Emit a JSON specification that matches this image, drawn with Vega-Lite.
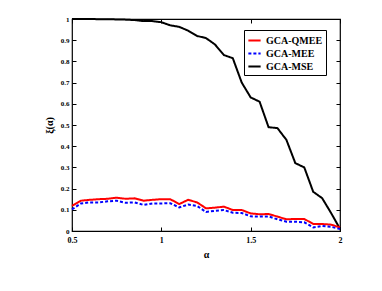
{
  "$schema": "https://vega.github.io/schema/vega-lite/v6.json",
  "width": 268,
  "height": 212,
  "autosize": {"type": "none"},
  "padding": {"left": 72, "top": 19, "right": 42, "bottom": 60},
  "background": "white",
  "config": {
    "view": {"stroke": "black", "strokeWidth": 1.2},
    "font": "Liberation Serif"
  },
  "datasets": {
    "d": [
      {"a":0.5,"v":1.0,"s":"GCA-MSE"},{"a":0.55,"v":1.0,"s":"GCA-MSE"},{"a":0.6,"v":1.0,"s":"GCA-MSE"},{"a":0.65,"v":0.999,"s":"GCA-MSE"},{"a":0.7,"v":0.999,"s":"GCA-MSE"},{"a":0.75,"v":0.998,"s":"GCA-MSE"},{"a":0.8,"v":0.997,"s":"GCA-MSE"},{"a":0.85,"v":0.995,"s":"GCA-MSE"},{"a":0.9,"v":0.99,"s":"GCA-MSE"},{"a":0.95,"v":0.99,"s":"GCA-MSE"},{"a":1.0,"v":0.985,"s":"GCA-MSE"},{"a":1.05,"v":0.97,"s":"GCA-MSE"},{"a":1.1,"v":0.963,"s":"GCA-MSE"},{"a":1.15,"v":0.945,"s":"GCA-MSE"},{"a":1.2,"v":0.92,"s":"GCA-MSE"},{"a":1.25,"v":0.91,"s":"GCA-MSE"},{"a":1.3,"v":0.88,"s":"GCA-MSE"},{"a":1.35,"v":0.83,"s":"GCA-MSE"},{"a":1.4,"v":0.815,"s":"GCA-MSE"},{"a":1.45,"v":0.70,"s":"GCA-MSE"},{"a":1.5,"v":0.63,"s":"GCA-MSE"},{"a":1.55,"v":0.61,"s":"GCA-MSE"},{"a":1.6,"v":0.49,"s":"GCA-MSE"},{"a":1.65,"v":0.485,"s":"GCA-MSE"},{"a":1.7,"v":0.43,"s":"GCA-MSE"},{"a":1.75,"v":0.32,"s":"GCA-MSE"},{"a":1.8,"v":0.30,"s":"GCA-MSE"},{"a":1.85,"v":0.185,"s":"GCA-MSE"},{"a":1.9,"v":0.155,"s":"GCA-MSE"},{"a":1.95,"v":0.085,"s":"GCA-MSE"},{"a":2.0,"v":0.01,"s":"GCA-MSE"},
      {"a":0.5,"v":0.118,"s":"GCA-QMEE"},{"a":0.55,"v":0.143,"s":"GCA-QMEE"},{"a":0.6,"v":0.147,"s":"GCA-QMEE"},{"a":0.65,"v":0.15,"s":"GCA-QMEE"},{"a":0.7,"v":0.152,"s":"GCA-QMEE"},{"a":0.75,"v":0.157,"s":"GCA-QMEE"},{"a":0.8,"v":0.152,"s":"GCA-QMEE"},{"a":0.85,"v":0.154,"s":"GCA-QMEE"},{"a":0.9,"v":0.143,"s":"GCA-QMEE"},{"a":0.95,"v":0.147,"s":"GCA-QMEE"},{"a":1.0,"v":0.15,"s":"GCA-QMEE"},{"a":1.05,"v":0.15,"s":"GCA-QMEE"},{"a":1.1,"v":0.127,"s":"GCA-QMEE"},{"a":1.15,"v":0.147,"s":"GCA-QMEE"},{"a":1.2,"v":0.135,"s":"GCA-QMEE"},{"a":1.25,"v":0.107,"s":"GCA-QMEE"},{"a":1.3,"v":0.11,"s":"GCA-QMEE"},{"a":1.35,"v":0.115,"s":"GCA-QMEE"},{"a":1.4,"v":0.099,"s":"GCA-QMEE"},{"a":1.45,"v":0.099,"s":"GCA-QMEE"},{"a":1.5,"v":0.083,"s":"GCA-QMEE"},{"a":1.55,"v":0.079,"s":"GCA-QMEE"},{"a":1.6,"v":0.08,"s":"GCA-QMEE"},{"a":1.65,"v":0.068,"s":"GCA-QMEE"},{"a":1.7,"v":0.055,"s":"GCA-QMEE"},{"a":1.75,"v":0.057,"s":"GCA-QMEE"},{"a":1.8,"v":0.057,"s":"GCA-QMEE"},{"a":1.85,"v":0.033,"s":"GCA-QMEE"},{"a":1.9,"v":0.033,"s":"GCA-QMEE"},{"a":1.95,"v":0.03,"s":"GCA-QMEE"},{"a":2.0,"v":0.017,"s":"GCA-QMEE"},
      {"a":0.5,"v":0.102,"s":"GCA-MEE"},{"a":0.55,"v":0.13,"s":"GCA-MEE"},{"a":0.6,"v":0.135,"s":"GCA-MEE"},{"a":0.65,"v":0.135,"s":"GCA-MEE"},{"a":0.7,"v":0.14,"s":"GCA-MEE"},{"a":0.75,"v":0.143,"s":"GCA-MEE"},{"a":0.8,"v":0.133,"s":"GCA-MEE"},{"a":0.85,"v":0.135,"s":"GCA-MEE"},{"a":0.9,"v":0.123,"s":"GCA-MEE"},{"a":0.95,"v":0.13,"s":"GCA-MEE"},{"a":1.0,"v":0.13,"s":"GCA-MEE"},{"a":1.05,"v":0.131,"s":"GCA-MEE"},{"a":1.1,"v":0.111,"s":"GCA-MEE"},{"a":1.15,"v":0.125,"s":"GCA-MEE"},{"a":1.2,"v":0.118,"s":"GCA-MEE"},{"a":1.25,"v":0.09,"s":"GCA-MEE"},{"a":1.3,"v":0.095,"s":"GCA-MEE"},{"a":1.35,"v":0.099,"s":"GCA-MEE"},{"a":1.4,"v":0.086,"s":"GCA-MEE"},{"a":1.45,"v":0.085,"s":"GCA-MEE"},{"a":1.5,"v":0.069,"s":"GCA-MEE"},{"a":1.55,"v":0.068,"s":"GCA-MEE"},{"a":1.6,"v":0.069,"s":"GCA-MEE"},{"a":1.65,"v":0.055,"s":"GCA-MEE"},{"a":1.7,"v":0.044,"s":"GCA-MEE"},{"a":1.75,"v":0.044,"s":"GCA-MEE"},{"a":1.8,"v":0.041,"s":"GCA-MEE"},{"a":1.85,"v":0.017,"s":"GCA-MEE"},{"a":1.9,"v":0.024,"s":"GCA-MEE"},{"a":1.95,"v":0.02,"s":"GCA-MEE"},{"a":2.0,"v":0.009,"s":"GCA-MEE"}
    ]
  },
  "data": {"name": "d"},
  "layer": [
    {
      "mark": {"type": "line", "strokeWidth": 2},
      "encoding": {
        "x": {"field": "a", "type": "quantitative", "scale": {"domain": [0.5, 2], "nice": false},
          "axis": {"title": "α", "values": [0.5, 1, 1.5, 2], "labelExpr": "'' + datum.value", "grid": false, "domain": false,
            "tickSize": -4, "tickColor": "black", "labelFont": "Liberation Serif", "labelFontWeight": "bold", "labelFontSize": 8, "labelColor": "black", "labelPadding": 9, "labelFlush": false,
            "titleFont": "Liberation Serif", "titleFontSize": 10, "titleFontWeight": "bold", "titleColor": "black", "titlePadding": 5}},
        "y": {"field": "v", "type": "quantitative", "scale": {"domain": [0, 1], "nice": false},
          "axis": {"title": "ξ(α)", "values": [0, 0.1, 0.2, 0.3, 0.4, 0.5, 0.6, 0.7, 0.8, 0.9, 1], "labelExpr": "'' + datum.value", "grid": false, "domain": false,
            "tickSize": -4, "tickColor": "black", "labelFont": "Liberation Serif", "labelFontWeight": "bold", "labelFontSize": 7, "labelColor": "black", "labelPadding": 7, "labelFlush": false,
            "titleFont": "Liberation Serif", "titleFontSize": 10, "titleFontWeight": "bold", "titleColor": "black", "titlePadding": 6}},
        "color": {"field": "s", "type": "nominal", "sort": ["GCA-QMEE", "GCA-MEE", "GCA-MSE"],
          "scale": {"domain": ["GCA-QMEE", "GCA-MEE", "GCA-MSE"], "range": ["#ff0000", "#0000ff", "#000000"]},
          "legend": {"title": null, "orient": "none", "legendX": 172, "legendY": 11, "strokeColor": "black", "fillColor": "white", "padding": 3,
            "symbolType": "stroke", "symbolStrokeWidth": 2.2, "symbolSize": 150, "labelFont": "Liberation Serif", "labelFontWeight": "bold", "labelFontSize": 10, "labelColor": "black", "rowPadding": 0, "labelOffset": 4}},
        "strokeDash": {"field": "s", "type": "nominal", "sort": ["GCA-QMEE", "GCA-MEE", "GCA-MSE"],
          "scale": {"domain": ["GCA-QMEE", "GCA-MEE", "GCA-MSE"], "range": [[1, 0], [3, 2], [1, 0]]},
          "legend": {"title": null, "orient": "none", "legendX": 172, "legendY": 11}}
      }
    },
    {
      "mark": {"type": "line", "opacity": 0},
      "encoding": {
        "x": {"field": "a", "type": "quantitative", "axis": {"orient": "top", "title": null, "labels": false, "values": [0.5, 1, 1.5, 2], "grid": false, "domain": false, "tickSize": -4, "tickColor": "black"}},
        "y": {"field": "v", "type": "quantitative", "axis": {"orient": "right", "title": null, "labels": false, "values": [0, 0.1, 0.2, 0.3, 0.4, 0.5, 0.6, 0.7, 0.8, 0.9, 1], "grid": false, "domain": false, "tickSize": -4, "tickColor": "black"}},
        "detail": {"field": "s"}
      }
    }
  ],
  "resolve": {"axis": {"x": "independent", "y": "independent"}}
}
